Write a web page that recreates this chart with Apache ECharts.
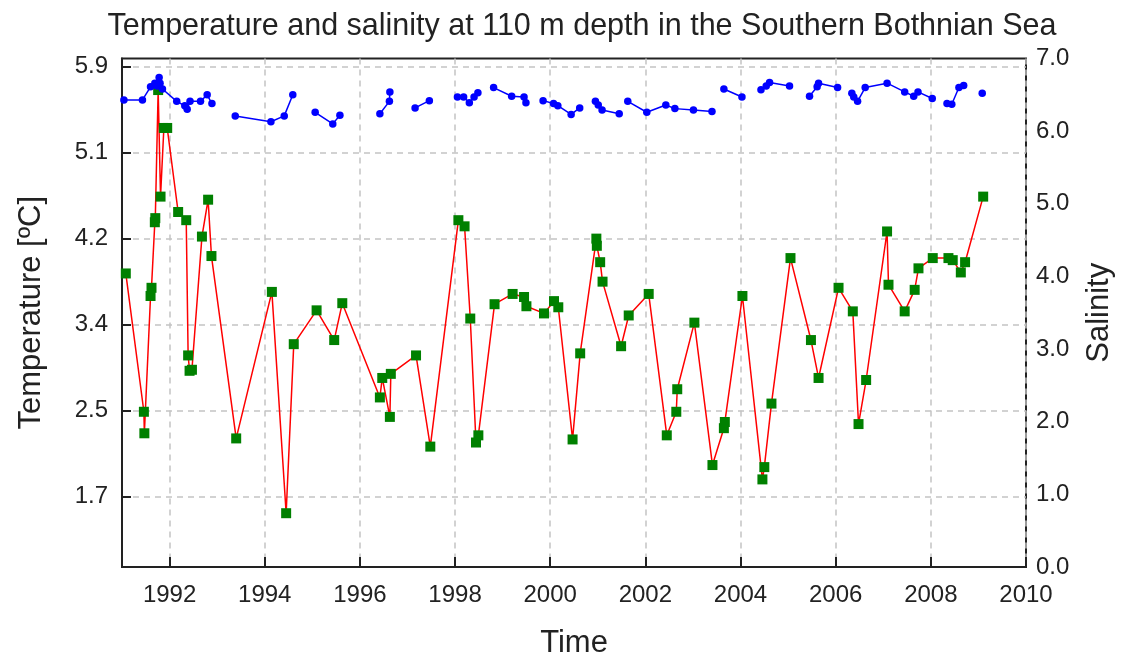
<!DOCTYPE html>
<html>
<head>
<meta charset="utf-8">
<script src="https://cdn.jsdelivr.net/npm/echarts@6/dist/echarts.min.js"></script>
<style>
  html, body { margin: 0; padding: 0; background: #ffffff; }
  #chart { width: 1123px; height: 664px; }
</style>
</head>
<body>
<div id="chart"></div>
<script>
// ---- Data ----
const titleText = 'Temperature and salinity at 110 m depth in the Southern Bothnian Sea';

// Temperature (left axis), green squares joined by a red line
const tempYears = [
  1991.08, 1991.46, 1991.47, 1991.60, 1991.62, 1991.69, 1991.70, 1991.76, 1991.81, 1991.88,
  1991.95, 1992.18, 1992.35, 1992.39, 1992.42, 1992.47, 1992.68, 1992.81, 1992.88, 1993.40,
  1994.15, 1994.45, 1994.61, 1995.09, 1995.46, 1995.63, 1996.42, 1996.47, 1996.63, 1996.65,
  1997.18, 1997.48, 1998.07, 1998.20, 1998.32, 1998.44, 1998.49, 1998.83, 1999.21, 1999.45,
  1999.50, 1999.87, 2000.08, 2000.17, 2000.47, 2000.63, 2000.97, 2000.98, 2001.05, 2001.10,
  2001.49, 2001.65, 2002.07, 2002.45, 2002.65, 2002.67, 2003.03, 2003.41, 2003.65, 2003.67,
  2004.04, 2004.46, 2004.50, 2004.65, 2005.05, 2005.48, 2005.64, 2006.06, 2006.36, 2006.48,
  2006.64, 2007.08, 2007.11, 2007.45, 2007.66, 2007.74, 2008.04, 2008.37, 2008.46, 2008.63,
  2008.72, 2009.10
];
const tempValues = [
  3.88, 2.53, 2.32, 3.66, 3.74, 4.38, 4.42, 5.67, 4.63, 5.30,
  5.30, 4.48, 4.40, 3.08, 2.93, 2.94, 4.24, 4.60, 4.05, 2.27,
  3.70, 1.54, 3.19, 3.52, 3.23, 3.59, 2.67, 2.86, 2.48, 2.90,
  3.08, 2.19, 4.40, 4.34, 3.44, 2.23, 2.30, 3.58, 3.68, 3.65,
  3.56, 3.49, 3.61, 3.55, 2.26, 3.10, 4.22, 4.15, 3.99, 3.80,
  3.17, 3.47, 3.68, 2.30, 2.53, 2.75, 3.40, 2.01, 2.37, 2.43,
  3.66, 1.87, 1.99, 2.61, 4.03, 3.23, 2.86, 3.74, 3.51, 2.41,
  2.84, 4.29, 3.77, 3.51, 3.72, 3.93, 4.03, 4.03, 4.01, 3.89,
  3.99, 4.63
];

// Salinity (right axis), blue dots; null marks a break in the line
const salYears = [
  1991.04, 1991.43, 1991.60, 1991.69, 1991.74, 1991.78, 1991.80, 1991.85, 1992.15, 1992.32,
  1992.37, 1992.43, 1992.65, 1992.79, 1992.89, null, 1993.38, 1994.13, 1994.41, 1994.59,
  null, 1995.06, 1995.43, 1995.58, null, 1996.42, 1996.62, 1996.63, null, 1997.16,
  1997.46, null, 1998.05, 1998.18, 1998.30, 1998.40, 1998.48, null, 1998.81, 1999.19,
  1999.45, 1999.49, null, 1999.85, 2000.07, 2000.16, 2000.44, 2000.62, null, 2000.95,
  2001.01, 2001.09, 2001.45, null, 2001.63, 2002.03, 2002.43, 2002.62, 2003.01, 2003.40,
  null, 2003.65, 2004.03, null, 2004.43, 2004.54, 2004.61, 2005.03, null, 2005.45,
  2005.61, 2005.64, 2006.04, null, 2006.34, 2006.38, 2006.46, 2006.62, 2007.08, 2007.45,
  2007.64, 2007.73, 2008.03, null, 2008.34, 2008.44, 2008.59, 2008.69, null, 2009.08
];
const salValues = [
  6.43, 6.43, 6.61, 6.66, 6.62, 6.74, 6.66, 6.58, 6.41, 6.35,
  6.30, 6.41, 6.41, 6.50, 6.38, null, 6.21, 6.13, 6.21, 6.50,
  null, 6.26, 6.10, 6.22, null, 6.24, 6.41, 6.54, null, 6.32,
  6.42, null, 6.47, 6.47, 6.39, 6.47, 6.53, null, 6.60, 6.48,
  6.47, 6.39, null, 6.42, 6.38, 6.35, 6.23, 6.32, null, 6.41,
  6.36, 6.29, 6.24, null, 6.41, 6.26, 6.36, 6.31, 6.29, 6.27,
  null, 6.58, 6.47, null, 6.57, 6.62, 6.67, 6.62, null, 6.48,
  6.61, 6.66, 6.60, null, 6.52, 6.47, 6.41, 6.60, 6.66, 6.54,
  6.48, 6.54, 6.45, null, 6.38, 6.37, 6.60, 6.63, null, 6.52
];

// Axis ranges and tick labels
const timeRange = [1991, 2010];
const timeTicks = [1992, 1994, 1996, 1998, 2000, 2002, 2004, 2006, 2008, 2010];
const tempRange = [1.015, 5.978];
const tempTicks = [1.70, 2.54, 3.38, 4.22, 5.06, 5.90];
const salRange = [0, 7];

// ---- Build series data ----
const tempData = tempYears.map((y, i) => [y, tempValues[i]]);
const salData = salYears.map((y, i) => (salValues[i] === null ? ['-', '-'] : [y, salValues[i]]));

const FONT = 'Liberation Sans, Arial, sans-serif';
const gridLine = { show: true, lineStyle: { color: '#c4c4c4', type: [6, 5], width: 1.5 } };

const chart = echarts.init(document.getElementById('chart'), null, { renderer: 'canvas' });
chart.setOption({
  animation: false,
  backgroundColor: '#ffffff',
  title: {
    text: titleText,
    left: 577,
    top: 6,
    textAlign: 'center',
    textStyle: { fontFamily: FONT, fontSize: 30.5, fontWeight: 'normal', color: '#222' }
  },
  grid: {
    left: 122, right: 97, top: 58.5, bottom: 95.5,
    show: true, borderColor: '#222', borderWidth: 2, backgroundColor: 'transparent',
    containLabel: false
  },
  xAxis: {
    type: 'value',
    min: timeRange[0], max: timeRange[1],
    name: 'Time', nameLocation: 'middle', nameGap: 61,
    nameTextStyle: { fontFamily: FONT, fontSize: 31, color: '#222' },
    axisLine: { show: true, lineStyle: { color: '#222', width: 2 } },
    axisTick: { show: true, inside: true, length: 10, customValues: timeTicks, lineStyle: { color: '#222', width: 2 } },
    axisLabel: { customValues: timeTicks, margin: 16, fontFamily: FONT, fontSize: 24, color: '#222',
      formatter: v => String(Math.round(v)) },
    splitLine: gridLine
  },
  yAxis: [
    {
      type: 'value',
      position: 'left',
      min: tempRange[0], max: tempRange[1],
      name: 'Temperature [ºC]', nameLocation: 'middle', nameGap: 75, nameRotate: 90,
      nameTextStyle: { fontFamily: FONT, fontSize: 31, color: '#222' },
      axisLine: { show: true, lineStyle: { color: '#222', width: 2 } },
      axisTick: { show: true, inside: true, length: 9, customValues: tempTicks, lineStyle: { color: '#222', width: 2 } },
      axisLabel: { customValues: tempTicks, margin: 14, fontFamily: FONT, fontSize: 24, color: '#222',
        formatter: v => v.toFixed(1) },
      splitLine: gridLine
    },
    {
      type: 'value',
      position: 'right',
      min: salRange[0], max: salRange[1], interval: 1,
      name: 'Salinity', nameLocation: 'middle', nameGap: 58, nameRotate: 90,
      nameTextStyle: { fontFamily: FONT, fontSize: 31, color: '#222' },
      axisLine: { show: false },
      axisTick: { show: false },
      axisLabel: { margin: 10, fontFamily: FONT, fontSize: 24, color: '#222',
        formatter: v => v.toFixed(1) },
      splitLine: { show: false }
    }
  ],
  series: [
    {
      name: 'Salinity',
      type: 'line',
      yAxisIndex: 1,
      data: salData,
      connectNulls: false,
      symbol: 'circle',
      symbolSize: 7.5,
      showAllSymbol: true,
      itemStyle: { color: '#0000ff' },
      lineStyle: { color: '#0000ff', width: 1.5 },
      z: 3
    },
    {
      name: 'Temperature',
      type: 'line',
      yAxisIndex: 0,
      data: tempData,
      symbol: 'rect',
      symbolSize: 10,
      showAllSymbol: true,
      itemStyle: { color: '#008000' },
      lineStyle: { color: '#ff0000', width: 1.5 },
      z: 2
    }
  ]
});
</script>
</body>
</html>
